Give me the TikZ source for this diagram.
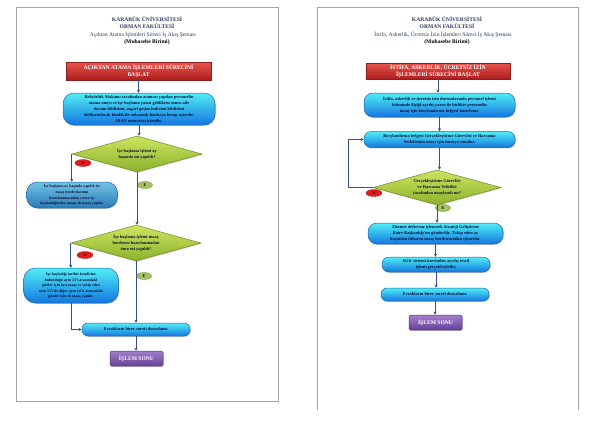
\documentclass[tikz,border=0pt]{standalone}
\usepackage{fontspec}
\setmainfont{Liberation Serif}
\usetikzlibrary{shapes.geometric,arrows.meta,shadows}
\definecolor{arrowc}{RGB}{55,80,130}
\definecolor{redtop}{RGB}{232,84,76}
\definecolor{redbot}{RGB}{172,30,30}
\definecolor{redline}{RGB}{140,30,30}
\definecolor{cyantop}{RGB}{80,238,245}
\definecolor{cyanbot}{RGB}{20,118,225}
\definecolor{cyanline}{RGB}{30,100,170}
\definecolor{steeltop}{RGB}{115,195,228}
\definecolor{steelbot}{RGB}{40,122,182}
\definecolor{greentop}{RGB}{205,228,95}
\definecolor{greenbot}{RGB}{140,178,45}
\definecolor{greenline}{RGB}{110,140,40}
\definecolor{purptop}{RGB}{165,125,205}
\definecolor{purpbot}{RGB}{100,65,150}
\definecolor{purpline}{RGB}{80,50,120}
\definecolor{hred}{RGB}{225,30,30}
\definecolor{egreen}{RGB}{165,195,100}
\definecolor{titlec}{RGB}{45,55,95}
\definecolor{boxtext}{RGB}{10,20,60}
\definecolor{framec}{RGB}{165,165,165}
\begin{document}
\begin{tikzpicture}[x=1pt,y=-1pt,
  shade/.style={drop shadow={opacity=0.35,shadow xshift=0.9pt,shadow yshift=-0.9pt}},
  titletext/.style={font=\fontsize{5.6}{6.5}\selectfont, text=titlec, inner sep=0},
  titlebold/.style={font=\fontsize{5.6}{6.5}\selectfont\bfseries, text=titlec, inner sep=0},
  subbold/.style={font=\fontsize{5.6}{6.5}\selectfont\bfseries, text=black, inner sep=0},
  startbox/.style={shade, draw=redline, line width=0.5pt, top color=redtop, bottom color=redbot,
    text=white, font=\fontsize{5.6}{7.2}\selectfont\bfseries, align=center, inner sep=0},
  procbox/.style={shade, draw=cyanline, line width=0.5pt, top color=cyantop, bottom color=cyanbot,
    rounded corners=9pt, text=boxtext, align=center, inner sep=0, font=\fontsize{4.4}{5.9}\selectfont\bfseries},
  smallbox/.style={procbox, rounded corners=6pt},
  steelbox/.style={procbox, rounded corners=11pt, top color=steeltop, bottom color=steelbot, font=\fontsize{3.9}{5.6}\selectfont\bfseries},
  decision/.style={shade, diamond, aspect=3.6, draw=greenline, line width=0.5pt, top color=greentop, bottom color=greenbot,
    text=boxtext, align=center, inner sep=0, font=\fontsize{4.4}{5.6}\selectfont\bfseries},
  endbox/.style={shade, draw=purpline, line width=0.5pt, top color=purptop, bottom color=purpbot,
    rounded corners=1.5pt, text=white, font=\fontsize{5.6}{6.5}\selectfont\bfseries, inner sep=0},
  hlabel/.style={ellipse, fill=hred, draw=hred!70!black, line width=0.3pt, minimum width=16pt, minimum height=7pt,
    inner sep=0, font=\fontsize{4.2}{5}\selectfont\bfseries, text=red!40!black},
  elabel/.style={ellipse, fill=egreen, draw=greenline, line width=0.3pt, minimum width=15pt, minimum height=7pt,
    inner sep=0, font=\fontsize{4.2}{5}\selectfont\bfseries, text=black},
  conn/.style={draw=arrowc, line width=0.6pt, -{Stealth[length=3pt,width=3pt]}}
]
\useasboundingbox (0,0) rectangle (600,424);
% page frames
\draw[framec, line width=0.8pt] (16,7) rectangle (278,401);
\draw[framec, line width=0.8pt] (317,410) -- (317,7) -- (578,7) -- (578,410);

% ---------------- left page ----------------
\node[titlebold] (lt1) at (147,19) {KARABÜK ÜNİVERSİTESİ};
\node[titlebold] (lt2) at (147,26.5) {ORMAN FAKÜLTESİ};
\node[titletext] (lt3) at (143,35) {Açıktan Atama İşlemleri Süreci İş Akış Şeması};
\node[subbold] (lt4) at (147,42.5) {(Muhasebe Birimi)};

\node[startbox, minimum width=145pt, minimum height=18pt] (ls) at (138.5,71)
  {AÇIKTAN ATAMA İŞLEMLERİ SÜRECİNİ\\BAŞLAT};
\node[procbox, rounded corners=11pt, minimum width=152pt, minimum height=32pt] (la) at (139,109)
  {Rektörlük Makamı tarafından ataması yapılan personelin\\
   atama onayı ve işe başlama yazısı geldikten sonra aile\\
   durum bildirimi, asgari geçim indirimi bildirimi\\
   doldurtularak kimlik ile anlaşmalı bankaya hesap açtırılır.\\
   IBAN numarası istenilir.};
\node[decision, minimum width=130pt, minimum height=36pt] (ld1) at (137,154)
  {İşe başlama işlemi ay\\başında mı yapıldı?};
\node[steelbox, minimum width=91pt, minimum height=26pt] (ll1) at (72,195)
  {İşe başlama ay başında yapıldı ise\\maaş bordrolarının\\hazırlanmasından sonra işe\\başlandığından maaşı ek maaş yapılır.};
\node[decision, minimum width=130pt, minimum height=36pt] (ld2) at (136,243)
  {İşe başlama işlemi maaş\\bordrosu hazırlanmadan\\önce mi yapıldı?};
\node[procbox, rounded corners=12pt, font=\fontsize{3.9}{5.6}\selectfont\bfseries, minimum width=95pt, minimum height=35pt] (ll2) at (71,285.5)
  {İşe başladığı tarihte kendisine\\bulunduğu ayın 15'i arasındaki\\günler için kıst maaş ve takip eden\\ayın 15'i ile diğer ayın 14'ü arasındaki\\günler için ek maaş yapılır.};
\node[smallbox, minimum width=108pt, minimum height=13pt] (lev) at (136,329.5)
  {Evrakların birer sureti dosyalanır.};
\node[endbox, minimum width=53pt, minimum height=15pt] (lend) at (136.5,358.5) {İŞLEM SONU};

\node[hlabel] (lh1) at (83,163) {H};
\node[elabel] (le1) at (145,185) {E};
\node[hlabel] (lh2) at (85,255) {H};
\node[elabel] (le2) at (144,276) {E};

\path[conn] (ls.south) -- (ls.south |- la.north);
\path[conn] (la.south) -- (la.south |- ld1.north);
\path[conn] (ld1.west) -- (ld1.west |- ll1.north);
\path[conn] (ld1.south) -- (ld1.south |- ld2.north);
\path[conn] (ld2.west) -- (ld2.west |- ll2.north);
\path[conn] (ld2.south) -- (ld2.south |- lev.north);
\path[conn] (ll2.south) |- (lev.west);
\path[conn] (lev.south) -- (lev.south |- lend.north);

% ---------------- right page ----------------
\node[titlebold] (rt1) at (447,19) {KARABÜK ÜNİVERSİTESİ};
\node[titlebold] (rt2) at (447,26.5) {ORMAN FAKÜLTESİ};
\node[titletext] (rt3) at (443,35) {İstifa, Askerlik, Ücretsiz İzin İşlemleri Süreci İş Akış Şeması};
\node[subbold] (rt4) at (447,42.5) {(Muhasebe Birimi)};

\node[startbox, minimum width=144pt, minimum height=16pt] (rs) at (438,71)
  {İSTİFA, ASKERLİK, ÜCRETSİZ İZİN\\İŞLEMLERİ SÜRECİNİ BAŞLAT};
\node[procbox, minimum width=151pt, minimum height=24pt] (r1) at (439.5,105)
  {İstifa, askerlik ve ücretsiz izin durumlarında personel işlemi\\
   bitiminde ilişiği ayrılış yazısı ile birlikte personelin\\
   maaş için borçlandırma belgesi hazırlanır.};
\node[procbox, rounded corners=7pt, minimum width=151pt, minimum height=16pt] (r2) at (439.5,139.5)
  {Borçlandırma belgesi Gerçekleştirme Görevlisi ve Harcama\\Yetkilisinin onayı için imzaya sunulur.};
\node[decision, minimum width=128pt, minimum height=35pt] (rd) at (437,187.5)
  {Gerçekleştirme Görevlisi\\ve Harcama Yetkilisi\\tarafından onaylandı mı?};
\node[procbox, minimum width=135pt, minimum height=21pt] (r3) at (435.5,233.5)
  {Zimmet defterine işlenerek Strateji Geliştirme\\Daire Başkanlığı'na gönderilir. Takip eden ay\\başından itibaren maaş bordrosundan çıkartılır.};
\node[procbox, rounded corners=7pt, minimum width=108pt, minimum height=15pt] (r4) at (436,264.5)
  {SGK sistemi üzerinden ayrılış tescil\\işlemi gerçekleştirilir.};
\node[smallbox, minimum width=108pt, minimum height=13pt] (r5) at (435,294.5)
  {Evrakların birer sureti dosyalanır.};
\node[endbox, minimum width=53pt, minimum height=15pt] (rend) at (435.5,322.5) {İŞLEM SONU};

\node[hlabel] (rh) at (374,193) {H};
\node[elabel] (re) at (443,208) {E};

\path[conn] (rs.south) -- (rs.south |- r1.north);
\path[conn] (r1.south) -- (r1.south |- r2.north);
\path[conn] (r2.south) -- (r2.south |- rd.north);
\path[conn] (rd.west) -- ++(-24,0) |- (r2.west);
\path[conn] (rd.south) -- (rd.south |- r3.north);
\path[conn] (r3.south) -- (r3.south |- r4.north);
\path[conn] (r4.south) -- (r4.south |- r5.north);
\path[conn] (r5.south) -- (r5.south |- rend.north);
\end{tikzpicture}
\end{document}
